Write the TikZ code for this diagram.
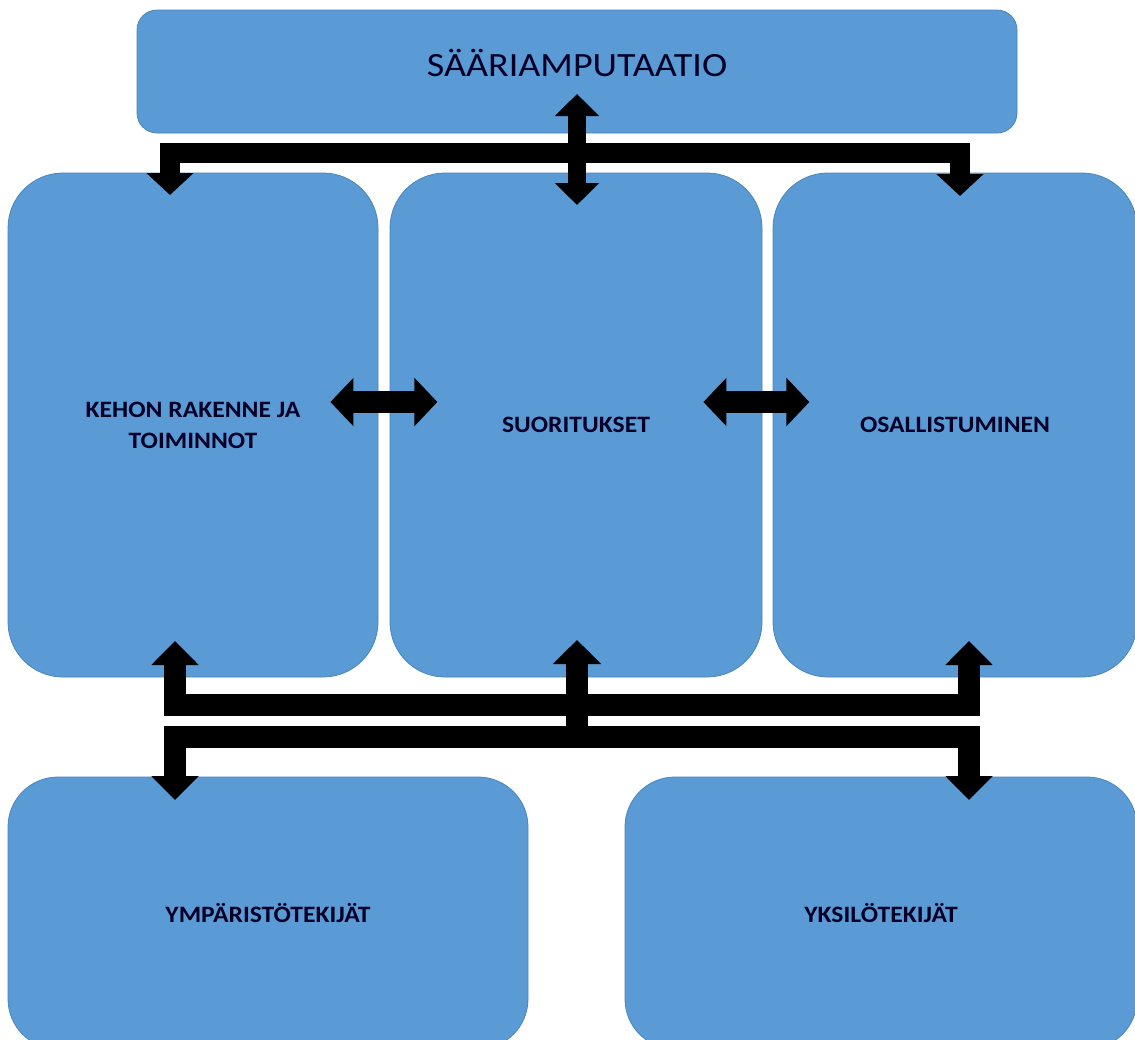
\documentclass[tikz,border=0pt]{standalone}
\usepackage{fontspec}
\setmainfont{Carlito}
\newfontfamily\labelfont[FakeStretch=1.09]{Carlito}
\newfontfamily\titlefont[FakeStretch=1.12]{Carlito}
\usetikzlibrary{arrows.meta}
\definecolor{boxblue}{HTML}{5B9BD5}
\definecolor{boxedge}{HTML}{4A84BC}
\begin{document}
\begin{tikzpicture}[x=1pt,y=-1pt,
  box/.style={draw=boxedge, line width=0.8pt, fill=boxblue, inner sep=0pt, align=center,
    font=\labelfont\fontsize{23.5}{31}\selectfont\bfseries, text=black!85!blue},
  blk/.style={draw=black, line width=#1, line cap=butt, line join=miter},
]
\useasboundingbox (0,0) rectangle (1135,1039);
\clip (0,0) rectangle (1135,1039);

% boxes
\node[box, rounded corners=20pt, minimum width=880pt, minimum height=123pt] (top) at (577,71.5) {};
\node[font=\titlefont\fontsize{34}{34}\selectfont, text=black!85!blue, inner sep=0pt] (title) at (577,63) {SÄÄRIAMPUTAATIO};

\node[box, rounded corners=55pt, minimum width=370pt, minimum height=504pt] (kehon) at (193,425) {KEHON RAKENNE JA\\TOIMINNOT};
\node[box, rounded corners=55pt, minimum width=372pt, minimum height=504pt] (suor) at (576,425) {SUORITUKSET};
\node[box, rounded corners=55pt, minimum width=364pt, minimum height=504pt] (osal) at (955,425) {OSALLISTUMINEN};

\node[box, rounded corners=50pt, minimum width=520pt, minimum height=272pt] (ymp) at (268,913) {YMPÄRISTÖTEKIJÄT};
\node[box, rounded corners=50pt, minimum width=512pt, minimum height=272pt] (yks) at (881,913) {YKSILÖTEKIJÄT};

% connector end points
\coordinate (tlt) at (170,195);
\coordinate (trt) at (960,196);
\coordinate (ctop) at (577,94);
\coordinate (cbot) at (577,205);
\coordinate (bl) at (175,641);
\coordinate (br) at (969,641);
\coordinate (bm) at (577,640);
\coordinate (bmb) at (577,748);
\coordinate (dl) at (175,800);
\coordinate (dr) at (969,800);

% top connectors
\draw[blk=20pt, {Triangle[length=22pt,width=46pt]}-{Triangle[length=22pt,width=46pt]}]
  (tlt) -- (170,153) -- (960,153) -- (trt);
\draw[blk=18pt, {Triangle[length=22pt,width=43pt]}-{Triangle[length=22pt,width=43pt]}]
  (ctop) -- (cbot);

% middle double arrows
\draw[blk=22pt, {Triangle[length=23pt,width=47pt]}-{Triangle[length=23pt,width=47pt]}]
  (kehon.east |- 0,402) ++(-48,0) coordinate (ka) -- ++(107,0) coordinate (kb);
\draw[blk=22pt, {Triangle[length=23pt,width=47pt]}-{Triangle[length=23pt,width=47pt]}]
  (suor.east |- 0,402) ++(-59,0) coordinate (sa) -- ++(106,0) coordinate (sb);

% bottom connectors
\draw[blk=22pt, {Triangle[length=24pt,width=46pt]}-{Triangle[length=24pt,width=46pt]}]
  (bl) -- (175,705) -- (969,705) -- (br);
\draw[blk=22pt, {Triangle[length=24pt,width=46pt]}-{Triangle[length=24pt,width=46pt]}]
  (dl) -- (175,737) -- (969,737) -- (dr);
\draw[blk=22pt, -{Triangle[length=24pt,width=47pt]}] (bmb) -- (bm);
\end{tikzpicture}
\end{document}
